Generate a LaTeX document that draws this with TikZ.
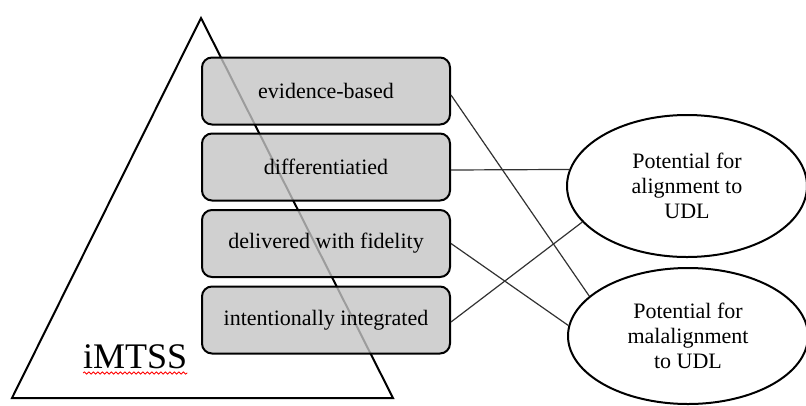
\documentclass[tikz,border=0pt]{standalone}
\usepackage{fontspec}
\setmainfont{Liberation Serif}
\usetikzlibrary{shapes.geometric,decorations.pathmorphing}
\definecolor{boxgray}{RGB}{196,196,196}
\definecolor{linegray}{RGB}{50,50,50}
\tikzset{
  stepbox/.style={draw=black, line width=2pt, rounded corners=10pt, fill=boxgray,
    fill opacity=0.8, text opacity=1, draw opacity=1,
    minimum width=248pt, minimum height=67pt, inner sep=0pt,
    font=\fontsize{22}{25}\selectfont},
  outcome/.style={draw=black, line width=2pt, ellipse, minimum width=240pt,
    minimum height=140pt, inner sep=0pt, align=center,
    font=\fontsize{22}{25}\selectfont},
  link/.style={draw=linegray, line width=1.2pt}
}
\begin{document}
\begin{tikzpicture}[x=1pt,y=-1pt]
\useasboundingbox (0,0) rectangle (806,405);
% triangle
\coordinate (apex) at (201,18);
\coordinate (bl) at (12,398);
\coordinate (br) at (393,398);
\draw[line width=2pt, line join=miter] (apex) -- (br) -- (bl) -- cycle;
\node[anchor=base west, inner sep=0pt, font=\fontsize{36}{40}\selectfont] (imtss) at (83,368) {iMTSS};
\draw[red, line width=0.8pt, decorate, decoration={snake, amplitude=1.1pt, segment length=4.5pt}]
  ([yshift=-5pt]imtss.base west) -- ([yshift=-5pt]imtss.base east);
% boxes
\node[stepbox] (b1) at (326,91) {evidence-based};
\node[stepbox] (b2) at (326,167) {differentiatied};
\node[stepbox] (b3) at (326,243.5) {delivered with fidelity};
\node[stepbox] (b4) at (326,320) {intentionally integrated};
% ellipses
\node[outcome, minimum height=142pt] (e1) at (687,186) {Potential for\\alignment to\\UDL};
\node[outcome, minimum height=136pt] (e2) at (688,336) {Potential for\\malalignment\\to UDL};
% connectors
\draw[link] ([yshift=-4pt]b1.east) -- (e2.158);
\draw[link] ([yshift=-3pt]b2.east) -- (e1.172);
\draw[link] (b3.east) -- (e2.175);
\draw[link] ([yshift=-2pt]b4.east) -- (e1.199);
\end{tikzpicture}
\end{document}
